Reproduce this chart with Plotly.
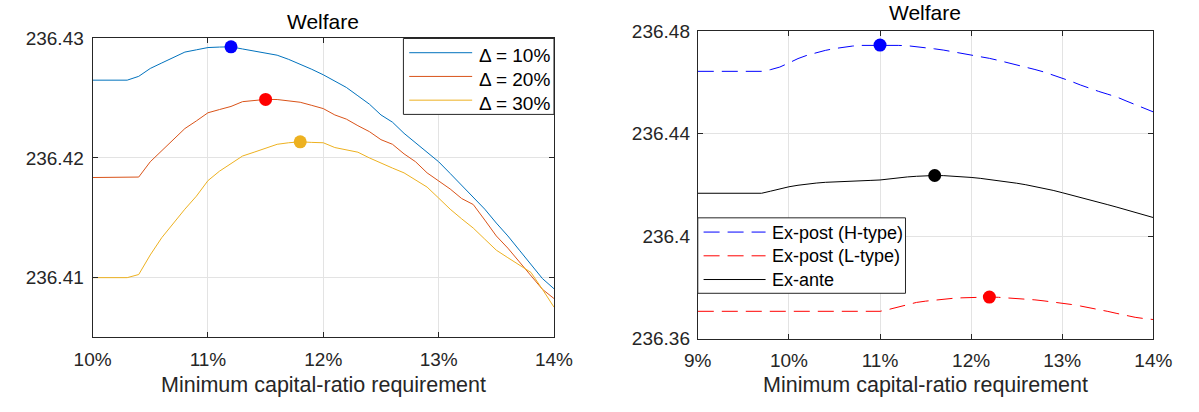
import plotly.graph_objects as go

W, H = 1199, 412

# ---------------- data ----------------
# Left panel: welfare against the minimum capital-ratio requirement (%)
req_left = [10.0, 10.1, 10.2, 10.3, 10.4, 10.5, 10.6, 10.7, 10.8, 10.9,
            11.0, 11.1, 11.2, 11.3, 11.4, 11.5, 11.6, 11.7, 11.8, 11.9,
            12.0, 12.1, 12.2, 12.3, 12.4, 12.5, 12.6, 12.7, 12.8, 12.9,
            13.0, 13.1, 13.2, 13.3, 13.4, 13.5, 13.6, 13.7, 13.8, 13.9, 14.0]

welfare_d10 = [236.42651, 236.42651, 236.42651, 236.42651, 236.42683, 236.42749, 236.42795,
               236.42840, 236.42886, 236.42905, 236.42924, 236.42928, 236.42930, 236.42912,
               236.42894, 236.42878, 236.42860, 236.42825, 236.42785, 236.42742, 236.42696,
               236.42645, 236.42590, 236.42520, 236.42450, 236.42360, 236.42299, 236.42206,
               236.42127, 236.42045, 236.41968, 236.41870, 236.41770, 236.41670, 236.41571,
               236.41455, 236.41347, 236.41228, 236.41109, 236.40990, 236.40905]

welfare_d20 = [236.41836, 236.41836, 236.41836, 236.41836, 236.41840, 236.41968, 236.42060,
               236.42160, 236.42246, 236.42310, 236.42378, 236.42405, 236.42431, 236.42471,
               236.42478, 236.42490, 236.42489, 236.42480, 236.42466, 236.42440, 236.42413,
               236.42360, 236.42325, 236.42270, 236.42220, 236.42153, 236.42114, 236.42034,
               236.41968, 236.41875, 236.41810, 236.41740, 236.41660, 236.41610, 236.41480,
               236.41347, 236.41245, 236.41130, 236.41010, 236.40900, 236.40823]

welfare_d30 = [236.40998, 236.40998, 236.40998, 236.40998, 236.41024, 236.41188, 236.41333,
               236.41452, 236.41571, 236.41680, 236.41810, 236.41889, 236.41950, 236.42016,
               236.42048, 236.42079, 236.42114, 236.42127, 236.42135, 236.42130, 236.42127,
               236.42087, 236.42070, 236.42048, 236.42000, 236.41955, 236.41915, 236.41875,
               236.41815, 236.41756, 236.41664, 236.41571, 236.41490, 236.41413, 236.41320,
               236.41228, 236.41165, 236.41100, 236.41042, 236.40900, 236.40751]

left_names = ["Δ = 10%", "Δ = 20%", "Δ = 30%"]
left_xticks = [10, 11, 12, 13, 14]
left_xticktext = ["10%", "11%", "12%", "13%", "14%"]
left_yticks = [236.41, 236.42, 236.43]
left_yticktext = ["236.41", "236.42", "236.43"]

# Right panel: ex-post (by type) and ex-ante welfare
req_right = [9.0, 9.1, 9.2, 9.3, 9.4, 9.5, 9.6, 9.7, 9.8, 9.9,
             10.0, 10.1, 10.2, 10.3, 10.4, 10.5, 10.6, 10.7, 10.8, 10.9,
             11.0, 11.1, 11.2, 11.3, 11.4, 11.5, 11.6, 11.7, 11.8, 11.9,
             12.0, 12.1, 12.2, 12.3, 12.4, 12.5, 12.6, 12.7, 12.8, 12.9,
             13.0, 13.1, 13.2, 13.3, 13.4, 13.5, 13.6, 13.7, 13.8, 13.9, 14.0]

welfare_h = [236.46433, 236.46433, 236.46433, 236.46433, 236.46433, 236.46433, 236.46433,
             236.46433, 236.46500, 236.46600, 236.46760, 236.46930, 236.47060, 236.47170,
             236.47250, 236.47320, 236.47380, 236.47420, 236.47445, 236.47452, 236.47457,
             236.47455, 236.47445, 236.47432, 236.47400, 236.47355, 236.47310, 236.47260,
             236.47200, 236.47145, 236.47086, 236.47015, 236.46940, 236.46860, 236.46778,
             236.46690, 236.46600, 236.46505, 236.46407, 236.46290, 236.46170, 236.46040,
             236.45900, 236.45760, 236.45650, 236.45540, 236.45430, 236.45280, 236.45140,
             236.44990, 236.44850]

welfare_l = [236.37074, 236.37074, 236.37074, 236.37074, 236.37074, 236.37074, 236.37074,
             236.37074, 236.37074, 236.37074, 236.37074, 236.37074, 236.37074, 236.37074,
             236.37074, 236.37074, 236.37074, 236.37074, 236.37074, 236.37074, 236.37074,
             236.37150, 236.37250, 236.37340, 236.37420, 236.37470, 236.37510, 236.37550,
             236.37580, 236.37600, 236.37615, 236.37628, 236.37630, 236.37620, 236.37600,
             236.37580, 236.37550, 236.37520, 236.37480, 236.37440, 236.37395, 236.37340,
             236.37280, 236.37215, 236.37148, 236.37070, 236.36990, 236.36910, 236.36840,
             236.36790, 236.36752]

welfare_ante = [236.41678, 236.41678, 236.41678, 236.41678, 236.41678, 236.41678, 236.41678,
                236.41678, 236.41760, 236.41860, 236.41930, 236.41990, 236.42040, 236.42075,
                236.42105, 236.42125, 236.42145, 236.42160, 236.42170, 236.42180, 236.42196,
                236.42240, 236.42280, 236.42315, 236.42340, 236.42360, 236.42370, 236.42365,
                236.42350, 236.42325, 236.42295, 236.42260, 236.42220, 236.42175, 236.42125,
                236.42070, 236.42010, 236.41945, 236.41870, 236.41790, 236.41700, 236.41612,
                236.41518, 236.41425, 236.41330, 236.41232, 236.41135, 236.41037, 236.40930,
                236.40830, 236.40730]

right_names = ["Ex-post (H-type)", "Ex-post (L-type)", "Ex-ante"]
right_xticks = [9, 10, 11, 12, 13, 14]
right_xticktext = ["9%", "10%", "11%", "12%", "13%", "14%"]
right_yticks = [236.36, 236.40, 236.44, 236.48]
right_yticktext = ["236.36", "236.4", "236.44", "236.48"]

panel_title = "Welfare"
x_title = "Minimum capital-ratio requirement"

# ---------------- styling ----------------
FONT = "Liberation Sans, Arial, Helvetica, sans-serif"
INK = "#262626"
GRID = "#e3e3e3"
left_colors = ["#0072BD", "#D95319", "#EDB120"]
left_peak_colors = ["#0000FF", "#FF0000", "#EDB120"]
right_colors = ["#0000FF", "#FF0000", "#000000"]
DASH = "16px,8px"


def px(x):
    return x / W


def py(y):
    return 1 - y / H


def argmax(vals):
    return max(range(len(vals)), key=lambda i: vals[i])


fig = go.Figure()

# left panel curves, each with a dot on its maximum
for name, ys, col, pcol in zip(left_names, [welfare_d10, welfare_d20, welfare_d30],
                               left_colors, left_peak_colors):
    fig.add_trace(go.Scatter(x=req_left, y=ys, mode="lines", name=name,
                             line=dict(color=col, width=1), xaxis="x", yaxis="y",
                             showlegend=False))
    k = argmax(ys)
    fig.add_trace(go.Scatter(x=[req_left[k]], y=[ys[k]], mode="markers",
                             marker=dict(color=pcol, size=13), xaxis="x", yaxis="y",
                             showlegend=False))

# right panel curves, each with a dot on its maximum
for name, ys, col, dash in zip(right_names, [welfare_h, welfare_l, welfare_ante],
                               right_colors, [DASH, DASH, "solid"]):
    fig.add_trace(go.Scatter(x=req_right, y=ys, mode="lines", name=name,
                             line=dict(color=col, width=1, dash=dash), xaxis="x2", yaxis="y2",
                             showlegend=False))
    k = argmax(ys)
    fig.add_trace(go.Scatter(x=[req_right[k]], y=[ys[k]], mode="markers",
                             marker=dict(color=col, size=13), xaxis="x2", yaxis="y2",
                             showlegend=False))

axis_common = dict(showline=True, linecolor=INK, linewidth=1, mirror="allticks",
                   ticks="inside", ticklen=5, tickcolor=INK, showgrid=True,
                   gridcolor=GRID, gridwidth=1, zeroline=False,
                   tickfont=dict(family=FONT, size=19, color=INK))

fig.update_layout(
    width=W, height=H, margin=dict(l=0, r=0, t=0, b=0),
    paper_bgcolor="white", plot_bgcolor="white", showlegend=False,
    xaxis=dict(domain=[px(76), px(552.5)], range=[10, 14], tickvals=left_xticks,
               ticktext=left_xticktext, anchor="y", ticklabelstandoff=5, **axis_common),
    yaxis=dict(domain=[py(344.7), py(30)], range=[236.405, 236.43], tickvals=left_yticks,
               ticktext=left_yticktext, anchor="x", ticklabelstandoff=4, **axis_common),
    xaxis2=dict(domain=[px(701), px(1171.5)], range=[9, 14], tickvals=right_xticks,
                ticktext=right_xticktext, anchor="y2", ticklabelstandoff=4, **axis_common),
    yaxis2=dict(domain=[py(346.5), py(22.3)], range=[236.36, 236.48], tickvals=right_yticks,
                ticktext=right_yticktext, anchor="x2", ticklabelstandoff=3, **axis_common),
)

shapes = []
annotations = []

# panel titles and x-axis labels
for cx, cy in [(314, 12.5), (936, 3)]:
    annotations.append(dict(text=panel_title, x=px(cx), y=py(cy), xref="paper", yref="paper",
                            xanchor="center", yanchor="middle", showarrow=False,
                            font=dict(family=FONT, size=21, color="#000000")))
for cx in [314, 936]:
    annotations.append(dict(text=x_title, x=px(cx), y=py(395), xref="paper", yref="paper",
                            xanchor="center", yanchor="middle", showarrow=False,
                            font=dict(family=FONT, size=21.5, color=INK)))


# boxed legends drawn inside each panel
def legend(box, line_x, text_x, rows, size):
    x0, x1, y0, y1 = box
    shapes.append(dict(type="rect", xref="paper", yref="paper", x0=px(x0), x1=px(x1),
                       y0=py(y1), y1=py(y0), line=dict(color=INK, width=1),
                       fillcolor="white", layer="above"))
    for label, col, dash, ly, ty in rows:
        shapes.append(dict(type="line", xref="paper", yref="paper", x0=px(line_x[0]),
                           x1=px(line_x[1]), y0=py(ly), y1=py(ly),
                           line=dict(color=col, width=1, dash=dash), layer="above"))
        annotations.append(dict(text=label, x=px(text_x), y=py(ty), xref="paper",
                                yref="paper", xanchor="left", yanchor="middle",
                                showarrow=False, font=dict(family=FONT, size=size,
                                                           color="#000000")))


legend((397, 552.5, 30, 110), (403, 468), 473,
       [(left_names[0], left_colors[0], "solid", 45, 48),
        (left_names[1], left_colors[1], "solid", 70, 73),
        (left_names[2], left_colors[2], "solid", 95, 98)], 19)
legend((701, 915.5, 219, 298.5), (707, 771), 776,
       [(right_names[0], right_colors[0], DASH, 234, 234.5),
        (right_names[1], right_colors[1], DASH, 259, 259.5),
        (right_names[2], right_colors[2], "solid", 284, 284.5)], 18)

fig.update_layout(shapes=shapes, annotations=annotations)

fig.write_html("out.html")
